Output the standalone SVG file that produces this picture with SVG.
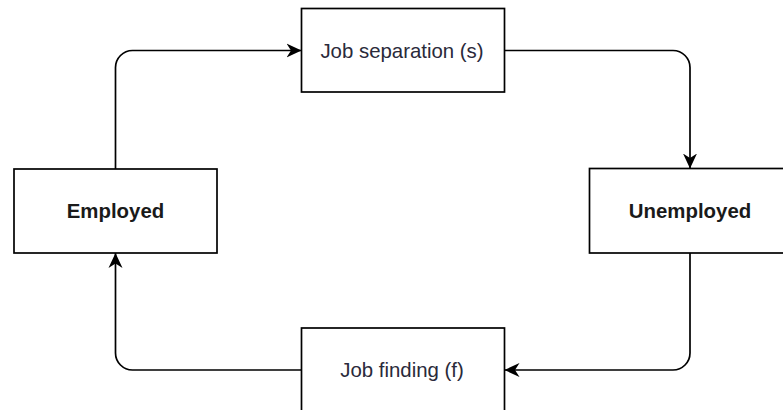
<svg xmlns="http://www.w3.org/2000/svg" width="783" height="410" viewBox="0 0 783 410">
  <style>
    .box { fill: #ffffff; stroke: #000000; stroke-width: 1.7; }
    .edge { fill: none; stroke: #000000; stroke-width: 1.7; marker-end: url(#arrow); }
    .label { font-family: "Liberation Sans", Arial, Helvetica, sans-serif; font-size: 20.4px; fill: #2a2a3a; text-anchor: middle; }
    .bold { font-weight: bold; fill: #1a1a1a; }
  </style>
  <defs>
    <marker id="arrow" markerUnits="userSpaceOnUse" viewBox="0 0 15 15" markerWidth="15" markerHeight="15" refX="15" refY="7.5" orient="auto">
      <path d="M0,0.5 L15,7.5 L0,14.5 L4.5,7.5 Z" fill="#000000"/>
    </marker>
  </defs>
  <rect width="783" height="410" fill="#ffffff"/>

  <!-- connectors -->
  <g id="edges">
    <path class="edge" d="M115.5,169 V67.5 A17,17 0 0 1 132.5,50.5 H301.5"/>
    <path class="edge" d="M504.5,50.5 H673 A17,17 0 0 1 690,67.5 V168.5"/>
    <path class="edge" d="M690,253 V353 A17,17 0 0 1 673,370 H504.5"/>
    <path class="edge" d="M301.5,370 H132.5 A17,17 0 0 1 115.5,353 V253"/>
  </g>

  <g id="job-separation">
    <rect class="box" x="301.5" y="8.5" width="203" height="83.5"/>
    <text class="label" x="402" y="57.5">Job separation (s)</text>
  </g>

  <g id="employed">
    <rect class="box" x="14" y="169" width="203" height="84"/>
    <text class="label bold" x="115.5" y="218">Employed</text>
  </g>

  <g id="unemployed">
    <rect class="box" x="589.5" y="168.5" width="203" height="84.5"/>
    <text class="label bold" x="690" y="218">Unemployed</text>
  </g>

  <g id="job-finding">
    <rect class="box" x="301.5" y="328" width="203" height="84"/>
    <text class="label" x="402" y="377">Job finding (f)</text>
  </g>
</svg>
